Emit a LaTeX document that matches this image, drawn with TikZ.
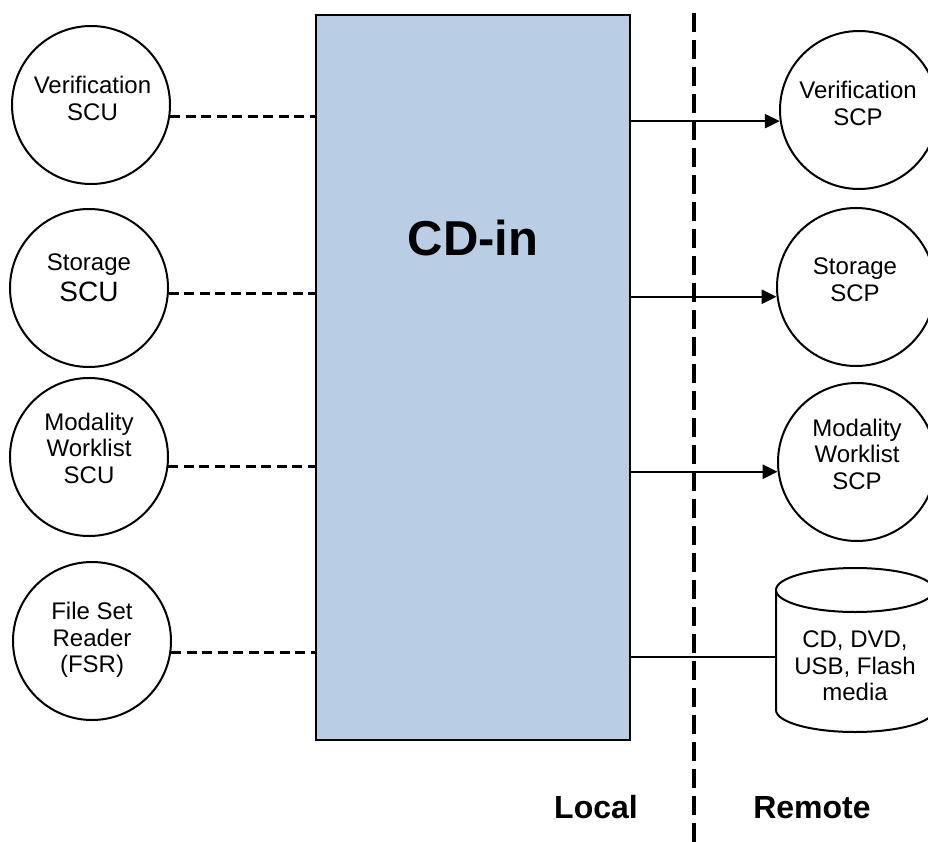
\documentclass[tikz,border=0pt]{standalone}
\usepackage{fontspec}
\setmainfont{Liberation Sans}
\usetikzlibrary{arrows.meta}
\definecolor{boxblue}{HTML}{B9CDE5}
\begin{document}
\begin{tikzpicture}[x=1pt,y=-1pt,
  unit/.style={circle,draw,line width=2pt,minimum size=158pt,inner sep=0pt},
  lbl/.style={align=center,font=\fontsize{24}{26.5}\selectfont,inner sep=0pt},
  link/.style={line width=3pt,dash pattern=on 10pt off 5.5pt},
  flow/.style={line width=2.4pt,-{Triangle[length=15pt,width=14pt]}},
  plain/.style={line width=2.4pt},
  border/.style={line width=4.5pt,dash pattern=on 19pt off 8pt},
  side/.style={font=\bfseries\fontsize{32}{36}\selectfont,anchor=base,inner sep=0pt}]
\useasboundingbox (0,0) rectangle (928,842);
\clip (0,0) rectangle (928,842);

% main box
\node[draw,fill=boxblue,line width=2.2pt,minimum width=314pt,minimum height=725pt,inner sep=0pt] (main) at (473,377.5) {};
\node[font=\bfseries\fontsize{49}{55}\selectfont,anchor=base,inner sep=0pt] (cdin) at (473,255) {CD-in};

% local units
\node[unit] (vscu) at (91,105) {};
\node[unit] (sscu) at (89,288) {};
\node[unit] (mscu) at (89,457) {};
\node[unit] (fsr)  at (92,641) {};
\node[lbl] (vscuT) at (92.5,98.5) {Verification\\SCU};
\node[lbl] (sscuT) at (89,278) {Storage\\[5pt]{\fontsize{28}{30}\selectfont SCU}};
\node[lbl] (mscuT) at (89,448) {Modality\\Worklist\\SCU};
\node[lbl] (fsrT)  at (92,640) {File Set\\Reader\\(FSR)};

% remote units
\node[unit] (vscp) at (859,110) {};
\node[unit] (sscp) at (856,287) {};
\node[unit] (mscp) at (857,462) {};
\node[lbl] (vscpT) at (858,103.5) {Verification\\SCP};
\node[lbl] (sscpT) at (855,279.5) {Storage\\SCP};
\node[lbl] (mscpT) at (857,454) {Modality\\Worklist\\SCP};

% media cylinder
\draw[line width=2pt,fill=white] (776,590) -- (776,710) arc[start angle=180,end angle=0,x radius=79,y radius=22] -- (934,590);
\draw[line width=2pt,fill=white] (855,590) ellipse [x radius=79,y radius=22];
\coordinate (mediaW) at (776,657);
\node[lbl] (mediaT) at (855,666) {CD, DVD,\\USB, Flash\\media};

% dashed links
\draw[link] (vscu.352) -- (vscu.352 -| main.west);
\draw[link] (sscu.356) -- (sscu.356 -| main.west);
\draw[link] (mscu.353) -- (mscu.353 -| main.west);
\draw[link] (fsr.352) -- (fsr.352 -| main.west);

% arrows
\draw[flow] (vscp.188 -| main.east) -- (vscp.188);
\draw[flow] (sscp.187 -| main.east) -- (sscp.187);
\draw[flow] (mscp.187 -| main.east) -- (mscp.187);
\draw[plain] (mediaW -| main.east) -- (mediaW);

% boundary
\coordinate (btop) at (694,13);
\coordinate (bbot) at (694,842);
\draw[border] (btop) -- (bbot);

\node[side] (local) at (596,818) {Local};
\node[side] (remote) at (812,818) {Remote};
\end{tikzpicture}
\end{document}
